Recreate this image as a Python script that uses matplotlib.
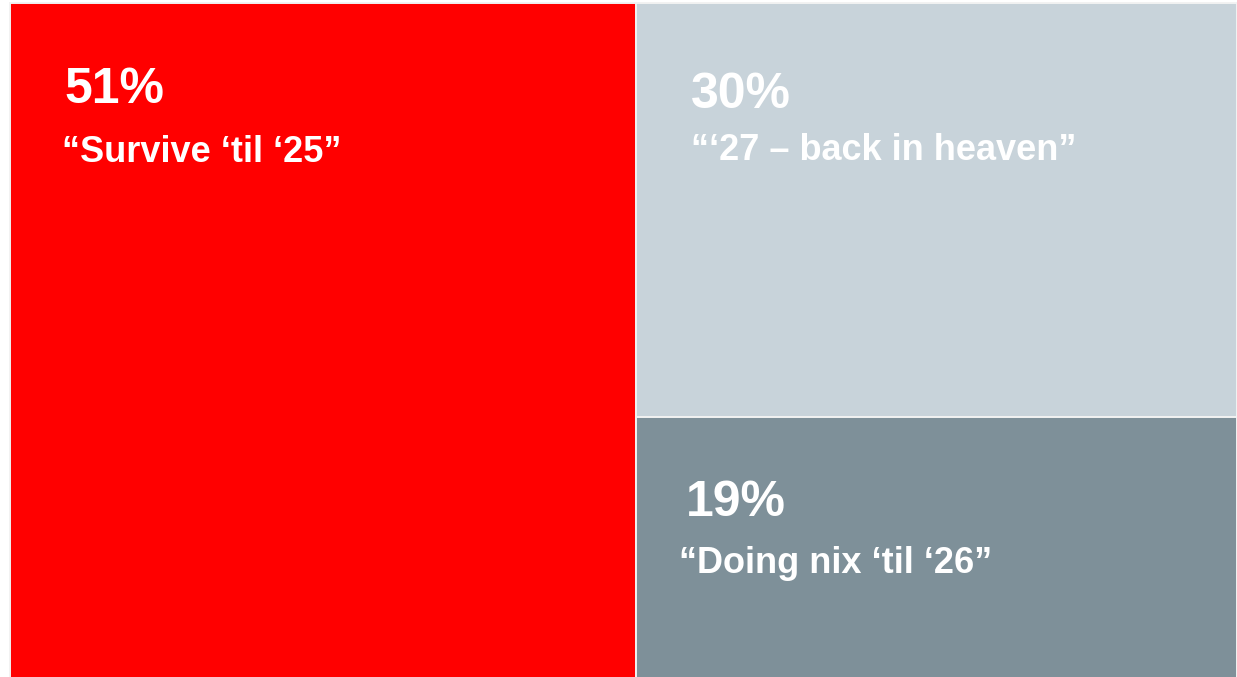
import matplotlib
matplotlib.use("Agg")
import matplotlib.pyplot as plt
from matplotlib.patches import Rectangle

# treemap data
shares = [51, 30, 19]
pct_labels = ["51%", "30%", "19%"]
names = ["\u201cSurvive \u2018til \u201825\u201d",
         "\u201c\u201827 \u2013 back in heaven\u201d",
         "\u201cDoing nix \u2018til \u201826\u201d"]
colors = ["#FF0000", "#C8D3DA", "#7E9099"]

plt.rcParams["font.family"] = ["Liberation Sans", "DejaVu Sans"]

fig = plt.figure(figsize=(12.37, 6.77), dpi=100)
ax = fig.add_axes([10 / 1237, -3 / 677, 1227 / 1237, 677 / 677])
ax.set_xlim(0, 1)
ax.set_ylim(0, 1)
ax.axis("off")

total = sum(shares)
w_left = shares[0] / total
rest = shares[1] + shares[2]
h_top = shares[1] / rest

rects = [
    (0, 0, w_left, 1),
    (w_left, 1 - h_top, 1 - w_left, h_top),
    (w_left, 0, 1 - w_left, 1 - h_top),
]
# text offsets (pixels) from each tile's top-left corner
pct_off = [(54, -100), (55, -105), (50, -99)]
name_off = [(52, -159), (55, -157), (43, -156)]

for (x, y, w, h), c, p, n, po, no in zip(rects, colors, pct_labels, names, pct_off, name_off):
    ax.add_patch(Rectangle((x, y), w, h, facecolor=c, edgecolor="#F2F2F2", lw=1.4, clip_on=False))
    ax.annotate(p, xy=(x, y + h), xytext=po, textcoords="offset pixels",
                fontsize=36, fontweight="bold", color="white", va="baseline", ha="left")
    ax.annotate(n, xy=(x, y + h), xytext=no, textcoords="offset pixels",
                fontsize=26, fontweight="bold", color="white", va="baseline", ha="left")

fig.savefig("out.png", dpi=100)
